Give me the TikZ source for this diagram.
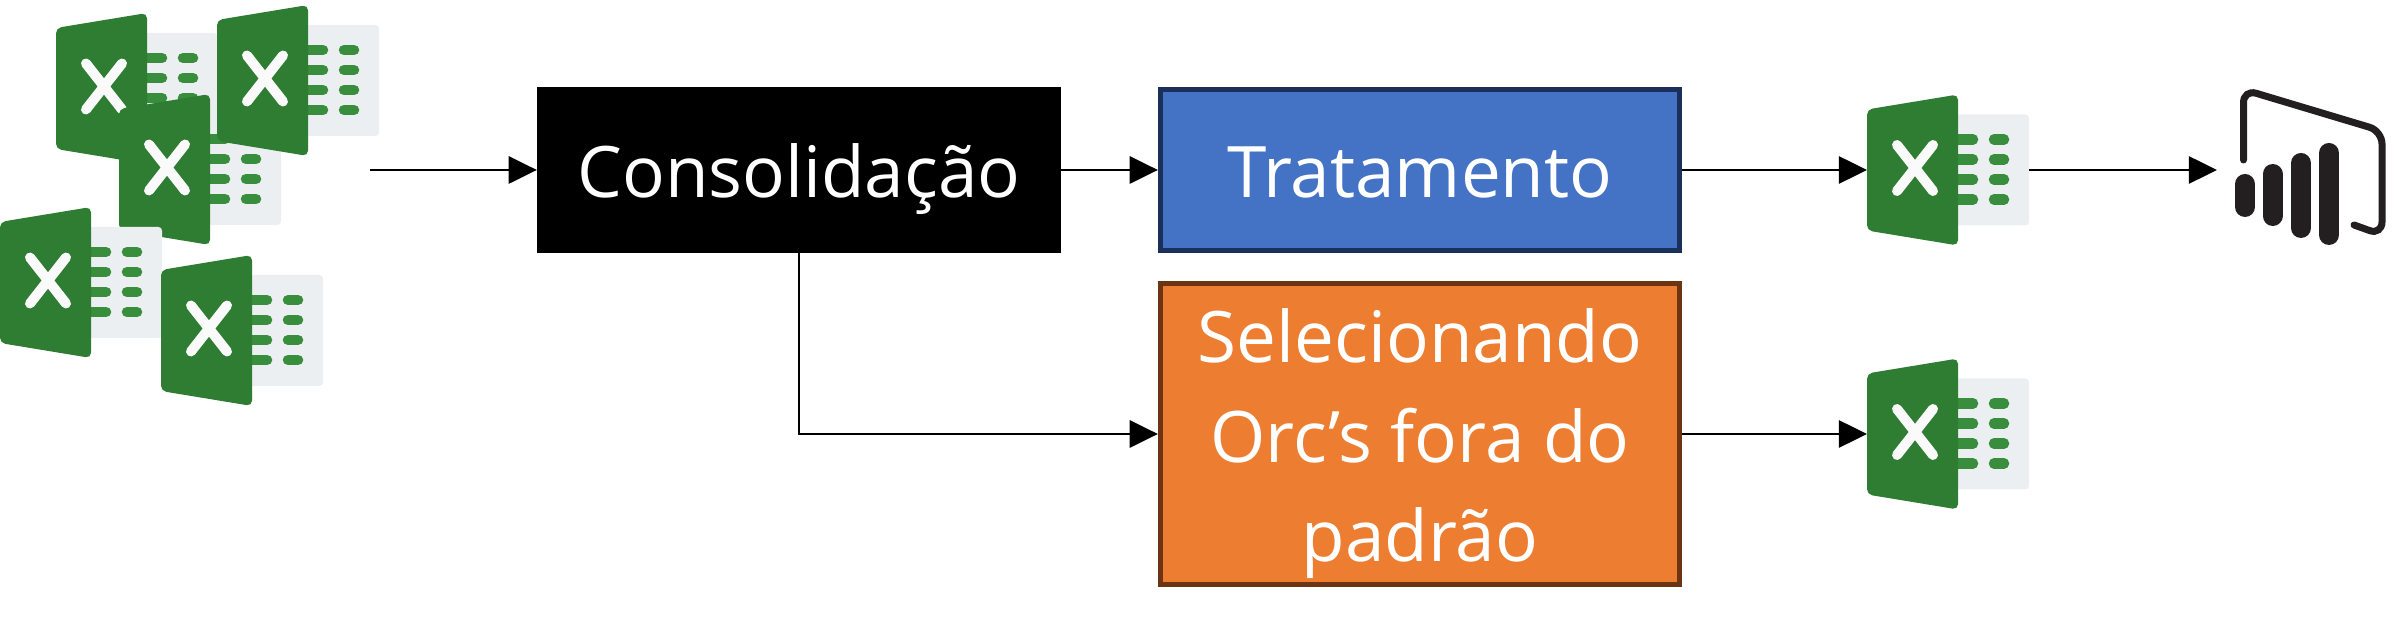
\documentclass[tikz,border=0pt]{standalone}
\usepackage{fontspec}
\setmainfont{Open Sans}
\usetikzlibrary{arrows.meta}
\definecolor{xlsgreen}{HTML}{2E7D32}
\definecolor{xlsbar}{HTML}{388E3C}
\definecolor{xlssheet}{HTML}{ECEFF1}
\definecolor{xlscross}{HTML}{FAFAFA}
\definecolor{pbiblack}{HTML}{231F20}
\definecolor{tratfill}{HTML}{4472C4}
\definecolor{tratline}{HTML}{1A2F5A}
\definecolor{orcfill}{HTML}{ED7D31}
\definecolor{orcline}{HTML}{6B3513}
\tikzset{
    block/.style = {minimum width = 5.19cm, minimum height = 1.61cm, text = white, align = center, line width = 0.05cm, font = \fontsize{20.2}{28.3}\selectfont},
    oneline/.style = {text height = 15.4pt, text depth = 0pt},
    flow/.style = {-{Triangle[length = 8pt, width = 7.7pt]}, line width = 0.75pt},
    xlsicon/.pic = {
        \fill[xlssheet, rounded corners = 1pt] (80,-55.5) rectangle (162,55.5);
        \foreach \y in {-30.5,-10.5,9.5,29.5} {
            \draw[xlsbar, line width = 0.105cm, line cap = round] (85,\y) -- (106,\y);
            \draw[xlsbar, line width = 0.105cm, line cap = round] (127,\y) -- (137,\y);
        }
        \fill[xlsgreen, rounded corners = 1.5pt] (0,-60.5) -- (91,-75.5) -- (91,75.5) -- (0,60.5) -- cycle;
        \draw[xlscross, line width = 0.1cm, line cap = round] (30,-25) -- (66,21);
        \draw[xlscross, line width = 0.1cm, line cap = round] (30,21) -- (66,-25);
        \coordinate (-west) at (0,0);
        \coordinate (-east) at (162,0);
    }
}
\begin{document}
\begin{tikzpicture}[x = 0.01cm, y = -0.01cm]
    \useasboundingbox (0,0) rectangle (2403,631);
    % entradas
    \pic (xlsa) at (56,88.5) {xlsicon};
    \pic (xlsc) at (119,169.5) {xlsicon};
    \pic (xlsb) at (217,80.5) {xlsicon};
    \pic (xlsd) at (0,282.5) {xlsicon};
    \pic (xlse) at (161,330.5) {xlsicon};
    % blocos
    \node[block, oneline, fill = black, minimum width = 5.24cm, minimum height = 1.66cm, line width = 0pt] (cons) at (799,170) {Consolida\c{c}\~ao};
    \node[block, oneline, fill = tratfill, draw = tratline] (trat) at (1420,170) {Tratamento};
    \node[block, fill = orcfill, draw = orcline, minimum height = 3.0cm, inner ysep = 0pt] (orc) at (1420,434) {\rule{0pt}{21pt}Selecionando\\Orc’s fora do\\padr\~ao};
    % saidas
    \pic (xlsf) at (1867,170) {xlsicon};
    \pic (xlsg) at (1867,434) {xlsicon};
    \coordinate (start) at (370,170);
    \coordinate (pbi) at (2217,170);
    % power bi
    \begin{scope}[pbiblack]
        \draw[line width = 0.07cm, line cap = round, rounded corners = 3.7pt] (2243.5,160) -- (2243.5,89.5) -- (2382,131) -- (2382,235) -- (2354,225);
        \foreach \xa/\ya/\yb in {2245/184/207, 2272.5/174/216, 2301/163/228, 2329/153/235} {
            \draw[line width = 0.2cm, line cap = round] (\xa,\ya) -- (\xa,\yb);
        }
    \end{scope}
    % conexoes
    \draw[flow] (start) -- (cons);
    \draw[flow] (cons) -- (trat);
    \draw[flow] (cons) |- (orc);
    \draw[flow] (trat) -- (xlsf-west);
    \draw[flow] (orc) -- (xlsg-west);
    \draw[flow] (xlsf-east) -- (pbi);
\end{tikzpicture}
\end{document}
